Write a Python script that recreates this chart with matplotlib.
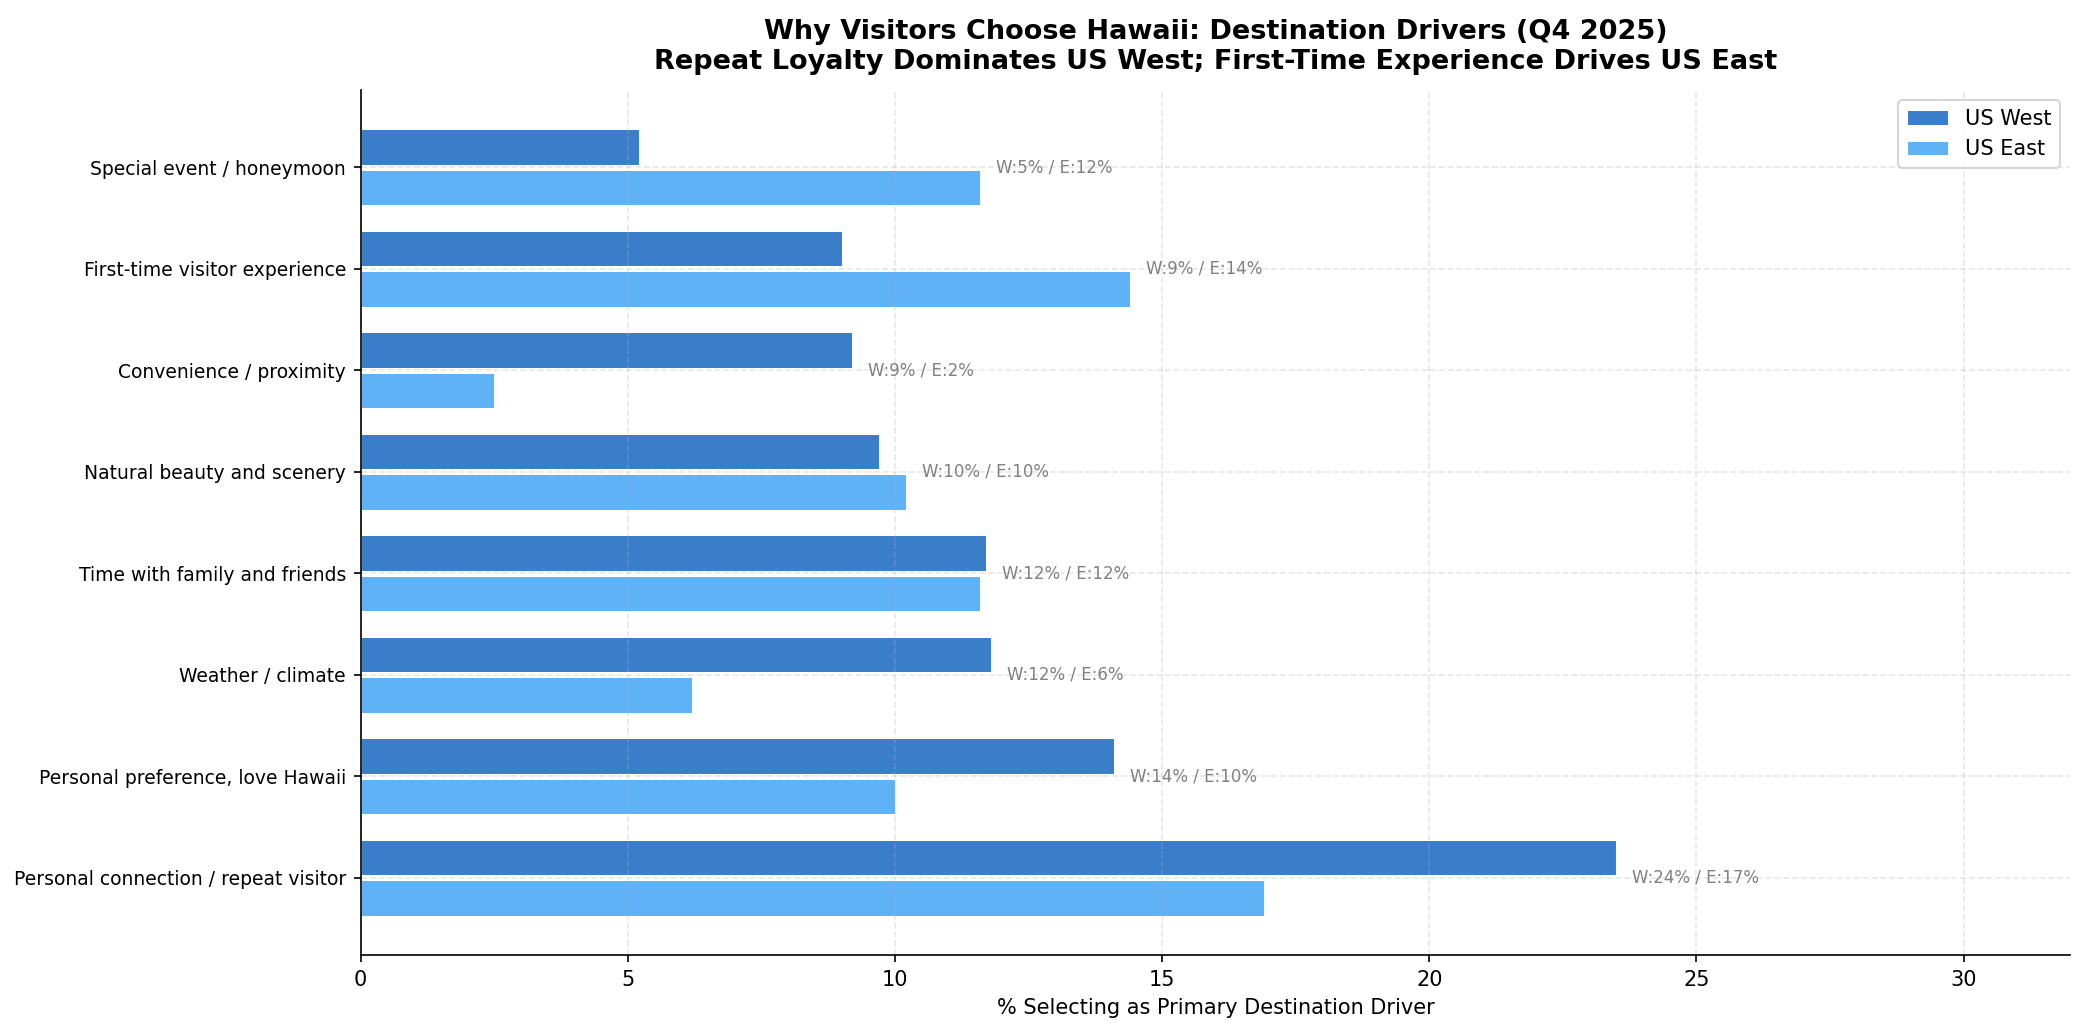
import numpy as np
import matplotlib
matplotlib.use("Agg")
import matplotlib.pyplot as plt

categories = [
    "Personal connection / repeat visitor",
    "Personal preference, love Hawaii",
    "Weather / climate",
    "Time with family and friends",
    "Natural beauty and scenery",
    "Convenience / proximity",
    "First-time visitor experience",
    "Special event / honeymoon",
]
us_west = [23.5, 14.1, 11.8, 11.7, 9.7, 9.2, 9.0, 5.2]
us_east = [16.9, 10.0, 6.2, 11.6, 10.2, 2.5, 14.4, 11.6]

y = np.arange(len(categories))
h = 0.35

fig, ax = plt.subplots(figsize=(13.9, 6.9), dpi=150)
ax.barh(y + 0.2, us_west, height=h, color="#3a7dc9", edgecolor="white", linewidth=0.5, label="US West")
ax.barh(y - 0.2, us_east, height=h, color="#5eb2f5", edgecolor="white", linewidth=0.5, label="US East")

for i, (w, e) in enumerate(zip(us_west, us_east)):
    ax.text(max(w, e) + 0.3, i, f"W:{round(w)}% / E:{round(e)}%",
            va="center", ha="left", fontsize=8, color="gray")

ax.set_yticks(y)
ax.set_yticklabels(categories, fontsize=9)
ax.set_xlim(0, 32)
ax.set_xlabel("% Selecting as Primary Destination Driver")
ax.set_title("Why Visitors Choose Hawaii: Destination Drivers (Q4 2025)\n"
             "Repeat Loyalty Dominates US West; First-Time Experience Drives US East",
             fontsize=13, fontweight="bold", pad=10)
ax.grid(True, linestyle="--", alpha=0.3)
ax.spines["top"].set_visible(False)
ax.spines["right"].set_visible(False)
ax.legend(loc="upper right")

plt.tight_layout()
plt.subplots_adjust(left=0.173, right=0.993, bottom=0.077, top=0.913)
plt.savefig("out.png")
